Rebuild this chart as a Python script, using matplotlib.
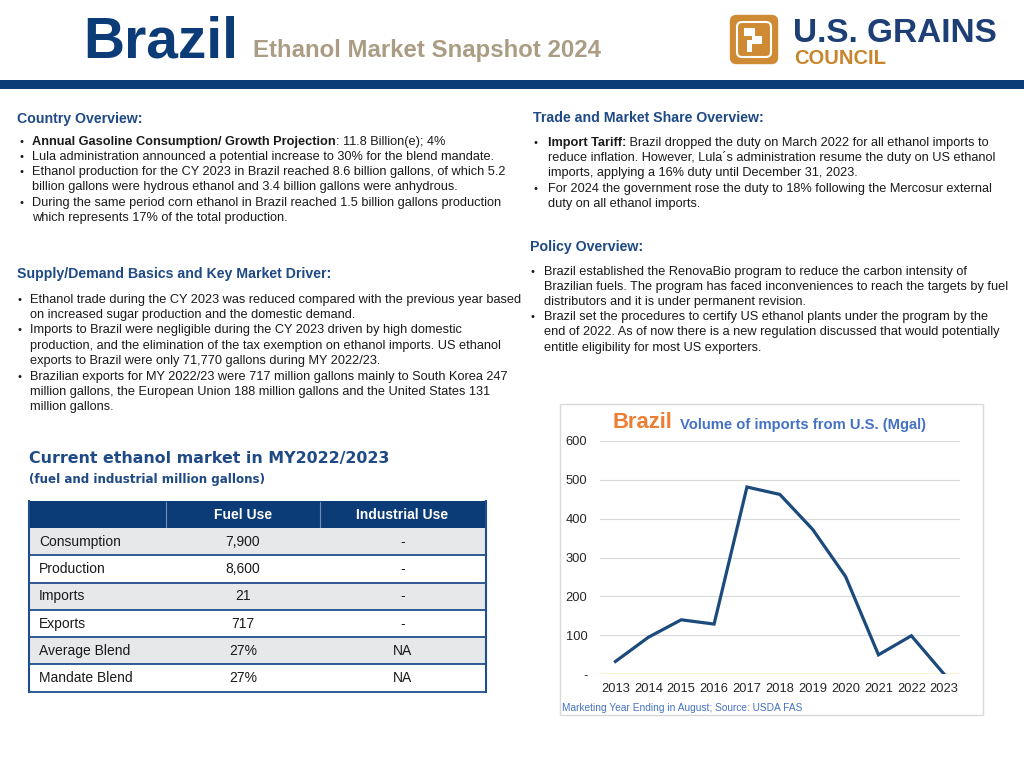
import matplotlib.pyplot as plt
from matplotlib.patches import Rectangle, FancyBboxPatch

plt.rcParams['font.family'] = ['Liberation Sans', 'DejaVu Sans']

# %% data
years = ['2013', '2014', '2015', '2016', '2017', '2018', '2019', '2020', '2021', '2022', '2023']
imports_mgal = [33, 95, 140, 129, 481, 462, 372, 251, 50, 99, 0]
y_ticks = [0, 100, 200, 300, 400, 500, 600]
y_tick_labels = ['-', '100', '200', '300', '400', '500', '600']

table_cols = ['', 'Fuel Use', 'Industrial Use']
table_rows = ['Consumption', 'Production', 'Imports', 'Exports', 'Average Blend', 'Mandate Blend']
fuel_use = ['7,900', '8,600', '21', '717', '27%', '27%']
industrial_use = ['-', '-', '-', '-', 'NA', 'NA']

country_lines = [
    [('Annual Gasoline Consumption/ Growth Projection', 'bold'), (': 11.8 Billion(e); 4%', 'normal')],
    'Lula administration announced a potential increase to 30% for the blend mandate.',
    'Ethanol production for the CY 2023 in Brazil reached 8.6 billion gallons, of which 5.2',
    'billion gallons were hydrous ethanol and 3.4 billion gallons were anhydrous.',
    'During the same period corn ethanol in Brazil reached 1.5 billion gallons production',
    'which represents 17% of the total production.',
]
country_bullets = [True, True, True, False, True, False]

supply_lines = [
    'Ethanol trade during the CY 2023 was reduced compared with the previous year based',
    'on increased sugar production and the domestic demand.',
    'Imports to Brazil were negligible during the CY 2023 driven by high domestic',
    'production, and the elimination of the tax exemption on ethanol imports. US ethanol',
    'exports to Brazil were only 71,770 gallons during MY 2022/23.',
    'Brazilian exports for MY 2022/23 were 717 million gallons mainly to South Korea 247',
    'million gallons, the European Union 188 million gallons and the United States 131',
    'million gallons.',
]
supply_bullets = [True, False, True, False, False, True, False, False]

trade_lines = [
    [('Import Tariff:', 'bold'), (' Brazil dropped the duty on March 2022 for all ethanol imports to', 'normal')],
    'reduce inflation. However, Lula\u00b4s administration resume the duty on US ethanol',
    'imports, applying a 16% duty until December 31, 2023.',
    'For 2024 the government rose the duty to 18% following the Mercosur external',
    'duty on all ethanol imports.',
]
trade_bullets = [True, False, False, True, False]

policy_lines = [
    'Brazil established the RenovaBio program to reduce the carbon intensity of',
    'Brazilian fuels. The program has faced inconveniences to reach the targets by fuel',
    'distributors and it is under permanent revision.',
    'Brazil set the procedures to certify US ethanol plants under the program by the',
    'end of 2022. As of now there is a new regulation discussed that would potentially',
    'entitle eligibility for most US exporters.',
]
policy_bullets = [True, False, False, True, False, False]

# %% colours
navy = '#0c3c78'
head_blue = '#1f4a86'
tan = '#ab9d84'
orange = '#cf8a34'
body = '#1a1a1a'

W, H = 1024, 768
fig = plt.figure(figsize=(10.24, 7.68), dpi=100)
bg = fig.add_axes([0, 0, 1, 1])
bg.set_xlim(0, W)
bg.set_ylim(H, 0)
bg.axis('off')
renderer = fig.canvas.get_renderer()

# %% header
bg.text(83, 57, 'Brazil', fontsize=41, fontweight='bold', color=navy, va='baseline')
bg.text(253, 57, 'Ethanol Market Snapshot 2024', fontsize=17.3, fontweight='bold', color=tan, va='baseline')
bg.add_patch(FancyBboxPatch((732, 17), 44, 45, boxstyle='round,pad=1.5,rounding_size=6',
                            fc=orange, ec=orange))
bg.add_patch(FancyBboxPatch((737, 22), 34, 35, boxstyle='round,pad=0,rounding_size=5',
                            fc='none', ec='white', lw=1.5))
bg.add_patch(Rectangle((744, 28), 11, 8, fc='white'))
bg.add_patch(Rectangle((752, 36), 10, 8, fc='white'))
bg.add_patch(Rectangle((747, 40), 5, 12, fc='white'))
bg.text(793, 42, 'U.S. GRAINS', fontsize=24, fontweight='bold', color='#1d3f76', va='baseline')
bg.text(794, 64, 'COUNCIL', fontsize=14.5, fontweight='bold', color='#c8852c', va='baseline')
bg.add_patch(Rectangle((0, 80), W, 9, fc=navy, ec='none'))


# %% text blocks
def rich_line(x, y, parts, size=9.2):
    for s, w in parts:
        t = bg.text(x, y, s, fontsize=size, fontweight=w, color=body, va='center', ha='left')
        x += t.get_window_extent(renderer=renderer).width


def block(title, tx, ty, lines, bullets, bx, lx, ys):
    bg.text(tx, ty, title, fontsize=10.2, fontweight='bold', color=head_blue, va='center')
    for line, b, y in zip(lines, bullets, ys):
        if b:
            bg.text(bx, y, '\u2022', fontsize=8, color=body, va='center')
        if isinstance(line, str):
            line = [(line, 'normal')]
        rich_line(lx, y, line)


block('Country Overview:', 17, 119.5, country_lines, country_bullets, 19, 32,
      [141.7, 156.7, 172, 187.3, 202.7, 218])
block('Supply/Demand Basics and Key Market Driver:', 17, 274, supply_lines, supply_bullets, 17, 29.5,
      [300, 315, 330.3, 345.7, 361, 376.7, 392, 407])
block('Trade and Market Share Overview:', 533, 118.3, trade_lines, trade_bullets, 534, 547.5,
      [142.7, 158, 173.3, 188.7, 204])
block('Policy Overview:', 530, 246.7, policy_lines, policy_bullets, 530.5, 544,
      [271.7, 286.7, 301.7, 317.3, 332.3, 347.7])

# %% table
bg.text(29, 458.5, 'Current ethanol market in MY2022/2023', fontsize=11.4, fontweight='bold',
        color=head_blue, va='center', family='DejaVu Sans')
bg.text(29, 479.5, '(fuel and industrial million gallons)', fontsize=8.6, fontweight='bold',
        color=head_blue, va='center', family='DejaVu Sans')
tx0, tx1 = 29, 485.5
col_edges = [29, 166, 320, 485.5]
col_centers = [39, 243, 402.5]
row_edges = [501, 528.3, 555, 582.7, 610, 637.3, 664.3, 691.7]
bg.add_patch(Rectangle((tx0, row_edges[0]), tx1 - tx0, row_edges[1] - row_edges[0], fc=navy, ec='none'))
for xe in col_edges[1:-1]:
    bg.plot([xe, xe], [row_edges[0] + 1, row_edges[1] - 1], color='#6f8fb8', lw=0.8)
for j, c in enumerate(table_cols[1:], start=1):
    bg.text(col_centers[j], (row_edges[0] + row_edges[1]) / 2, c, fontsize=10, fontweight='bold',
            color='white', ha='center', va='center')
for i, (lab, f, ind) in enumerate(zip(table_rows, fuel_use, industrial_use)):
    y0, y1 = row_edges[i + 1], row_edges[i + 2]
    fc = '#e7e8ea' if i % 2 == 0 else 'white'
    bg.add_patch(Rectangle((tx0, y0), tx1 - tx0, y1 - y0, fc=fc, ec='none'))
    yc = (y0 + y1) / 2
    bg.text(col_centers[0], yc, lab, fontsize=10, color=body, va='center')
    bg.text(col_centers[1], yc, f, fontsize=10, color=body, va='center', ha='center')
    bg.text(col_centers[2], yc, ind, fontsize=10, color=body, va='center', ha='center')
    bg.plot([tx0, tx1], [y1, y1], color='#1f4e8c', lw=1.3)
bg.plot([tx0, tx0], [row_edges[0], row_edges[-1]], color='#1f4e8c', lw=1.5)
bg.plot([tx1, tx1], [row_edges[0], row_edges[-1]], color='#1f4e8c', lw=1.5)

# %% chart
bg.add_patch(Rectangle((559.5, 404), 423.5, 311, fc='white', ec='#d9d9d9', lw=1))
ax = fig.add_axes([600 / W, (H - 674.3) / H, 360 / W, 233.6 / H])
x = list(range(len(years)))
for yt in y_ticks[1:]:
    ax.axhline(yt, color='#d9d9d9', lw=0.8, zorder=0)
ax.axhline(0, color='#f2c40f', lw=1, zorder=1)
ax.plot(x, imports_mgal, color='#1b4a7c', lw=2.3, zorder=3, solid_joinstyle='miter')
ax.set_xlim(-0.47, len(years) - 0.52)
ax.set_ylim(0, 600)
ax.set_xticks(x)
ax.set_xticklabels(years, fontsize=9.3, color='#262626')
ax.set_yticks(y_ticks)
ax.set_yticklabels(y_tick_labels, fontsize=9.3, color='#262626')
ax.tick_params(length=0, axis='y', pad=9)
ax.tick_params(length=0, axis='x', pad=6)
for s in ax.spines.values():
    s.set_visible(False)
ax.patch.set_alpha(0)

bg.text(612, 422.5, 'Brazil', fontsize=15.8, fontweight='bold', color='#ed7d31', va='center')
bg.text(680, 424.5, 'Volume of imports from U.S. (Mgal)', fontsize=10.6, fontweight='bold',
        color='#4472c4', va='center')
bg.text(562, 708, 'Marketing Year Ending in August; Source: USDA FAS', fontsize=7.3,
        color='#4472c4', va='center')

fig.savefig('out.png', dpi=100)
